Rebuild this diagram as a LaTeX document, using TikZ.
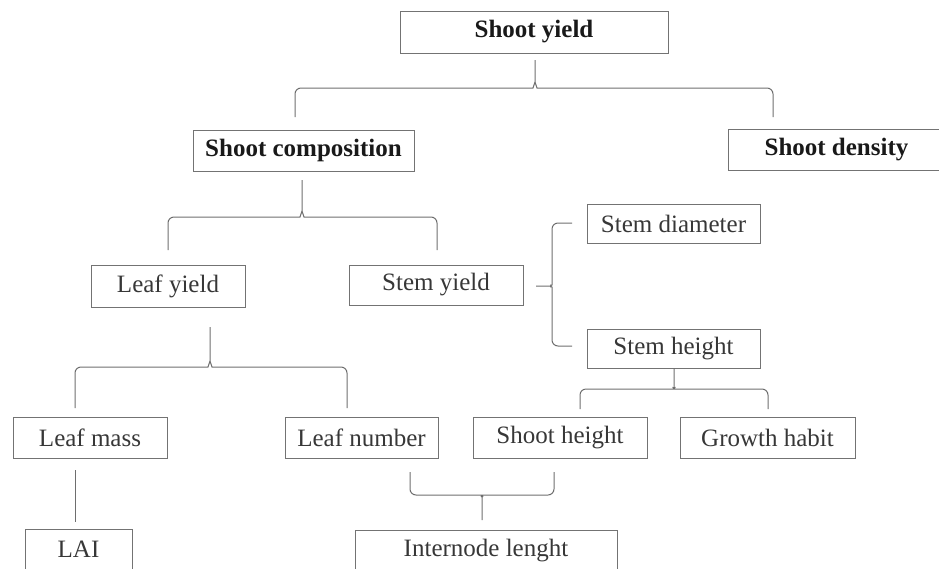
\documentclass[tikz,border=0pt]{standalone}
\usepackage{fontspec}
\setmainfont{Liberation Serif}
\definecolor{boxgray}{RGB}{115,115,115}
\definecolor{linegray}{RGB}{110,110,110}
\definecolor{txtgray}{RGB}{55,55,55}
\definecolor{txtdark}{RGB}{25,25,25}
\begin{document}
\begin{tikzpicture}[x=1pt,y=-1pt,
  box/.style={draw=boxgray, line width=1pt, inner sep=0pt, text=txtgray,
    font=\fontsize{25}{29}\selectfont},
  boldbox/.style={box, text=txtdark, font=\fontsize{25}{29}\selectfont\bfseries},
  conn/.style={draw=linegray, line width=1pt, rounded corners=6pt}]
\path[use as bounding box] (0,0) rectangle (939,568);
\clip (0,0) rectangle (939,568);
% nodes
\node[boldbox, minimum width=268pt, minimum height=42pt] (sy) at (534,32) {Shoot yield};
\node[boldbox, minimum width=221pt, minimum height=41pt] (sc) at (303.5,150.5) {Shoot composition};
\node[boldbox, minimum width=217pt, minimum height=41pt] (sd) at (836.5,149.5) {Shoot density};
\node[box, minimum width=154pt, minimum height=42pt] (ly) at (168,286) {Leaf yield};
\node[box, minimum width=174pt, minimum height=40pt] (sty) at (436,285) {Stem yield};
\node[box, minimum width=173pt, minimum height=39pt] (sdia) at (673.5,223.5) {Stem diameter};
\node[box, minimum width=173pt, minimum height=39pt] (sh) at (673.5,348.5) {Stem height};
\node[box, minimum width=174pt, minimum height=41pt] (shh) at (560,437.5) {Shoot height};
\node[box, minimum width=175pt, minimum height=41pt] (gh) at (767.5,437.5) {Growth habit};
\node[box, minimum width=154pt, minimum height=41pt] (lm) at (90,437.5) {Leaf mass};
\node[box, minimum width=153pt, minimum height=41pt] (ln) at (361.5,437.5) {Leaf number};
\node[box, minimum width=107pt, minimum height=41pt] (lai) at (78.5,549.5) {LAI};
\node[box, minimum width=262pt, minimum height=41pt] (il) at (486,550.5) {Internode lenght};
% brace end points
\coordinate (b1t) at (535,60); \coordinate (b1l) at (295,117); \coordinate (b1r) at (773,117);
\coordinate (b2t) at (302,180); \coordinate (b2l) at (168,250); \coordinate (b2r) at (437,250);
\coordinate (b3t) at (210,327); \coordinate (b3l) at (75,408); \coordinate (b3r) at (347,408);
\coordinate (b4t) at (536,286); \coordinate (b4a) at (572,223); \coordinate (b4b) at (572,346);
\coordinate (b5t) at (674,368); \coordinate (b5l) at (580,409); \coordinate (b5r) at (768,409);
\coordinate (b6t) at (482,520); \coordinate (b6l) at (410,472); \coordinate (b6r) at (554,472);
\coordinate (l1a) at (75,470); \coordinate (l1b) at (75,522);
% braces
\draw[conn] (b1l) -- (295,88) -- (527,88) .. controls (533,88) and (535,82) .. (535,76) -- (b1t)
  (b1t) -- (535,76) .. controls (535,82) and (537,88) .. (543,88) -- (773,88) -- (b1r);
\draw[conn] (b2l) -- (168,217) -- (294,217) .. controls (300,217) and (302,211) .. (302,205) -- (b2t)
  (b2t) -- (302,205) .. controls (302,211) and (304,217) .. (310,217) -- (437,217) -- (b2r);
\draw[conn] (b3l) -- (75,367) -- (202,367) .. controls (208,367) and (210,361) .. (210,355) -- (b3t)
  (b3t) -- (210,355) .. controls (210,361) and (212,367) .. (218,367) -- (347,367) -- (b3r);
\draw[conn] (b4a) -- (552,223) -- (552,279) .. controls (552,284) and (549,286) .. (545,286) -- (b4t)
  (b4t) -- (545,286) .. controls (549,286) and (552,288) .. (552,293) -- (552,346) -- (b4b);
\draw[conn] (b5l) -- (580,389) -- (668,389) .. controls (672,389) and (674,386) .. (674,382) -- (b5t)
  (b5t) -- (674,382) .. controls (674,386) and (676,389) .. (680,389) -- (768,389) -- (b5r);
\draw[conn] (b6l) -- (410,495) -- (476,495) .. controls (480,495) and (482,498) .. (482,503) -- (b6t)
  (b6t) -- (482,503) .. controls (482,498) and (484,495) .. (488,495) -- (554,495) -- (b6r);
\draw[conn] (l1a) -- (l1b);
\end{tikzpicture}
\end{document}
